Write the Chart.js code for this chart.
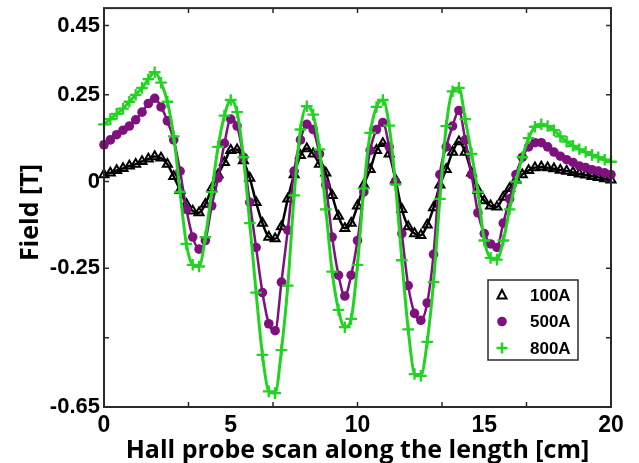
<!DOCTYPE html>
<html>
<head>
<meta charset="utf-8">
<script src="https://cdn.jsdelivr.net/npm/chart.js@4.4.1/dist/chart.umd.min.js"></script>
<style>
  html, body { margin: 0; padding: 0; background: #ffffff; }
  #wrap { width: 639px; height: 463px; }
</style>
</head>
<body>
<div id="wrap"><canvas id="c" width="639" height="463"></canvas></div>
<script>
// Probe positions along the length [cm]
const positions = [
  0, 0.25, 0.5, 0.75, 1, 1.25, 1.5, 1.75, 2, 2.25, 2.5, 2.75, 3, 3.25, 3.5, 3.75,
  4, 4.25, 4.5, 4.75, 5, 5.25, 5.5, 5.75, 6, 6.25, 6.5, 6.75, 7, 7.25, 7.5, 7.75,
  8, 8.25, 8.5, 8.75, 9, 9.25, 9.5, 9.75, 10, 10.25, 10.5, 10.75, 11, 11.25, 11.5, 11.75,
  12, 12.25, 12.5, 12.75, 13, 13.25, 13.5, 13.75, 14, 14.25, 14.5, 14.75, 15, 15.25, 15.5, 15.75,
  16, 16.25, 16.5, 16.75, 17, 17.25, 17.5, 17.75, 18, 18.25, 18.5, 18.75, 19, 19.25, 19.5, 19.75, 20
];

// Measured field [T] for each coil current
const field100A = [
  0.02, 0.025, 0.032, 0.038, 0.045, 0.05, 0.058, 0.065, 0.072,
  0.068, 0.05, 0.015, -0.025, -0.065, -0.085, -0.09, -0.065,
  -0.02, 0.02, 0.055, 0.09, 0.092, 0.06, 0.01, -0.06,
  -0.12, -0.16, -0.165, -0.13, -0.05, 0.02, 0.075, 0.095,
  0.08, 0.05, 0.025, -0.04, -0.10, -0.135, -0.12, -0.07,
  -0.01, 0.035, 0.09, 0.11, 0.08, 0.005, -0.08, -0.13,
  -0.15, -0.155, -0.125, -0.075, -0.01, 0.035, 0.085, 0.115,
  0.085, 0.025, -0.025, -0.055, -0.07, -0.073, -0.045, -0.02,
  0.005, 0.02, 0.032, 0.04, 0.042, 0.04, 0.037, 0.033,
  0.03, 0.026, 0.022, 0.019, 0.015, 0.012, 0.008, 0.005
];
const field500A = [
  0.106, 0.12, 0.135, 0.148, 0.16, 0.178, 0.20, 0.225, 0.24,
  0.215, 0.175, 0.12, 0.03, -0.08, -0.16, -0.195, -0.17,
  -0.07, 0.01, 0.11, 0.18, 0.16, 0.07, -0.06, -0.19,
  -0.32, -0.41, -0.43, -0.29, -0.14, 0.03, 0.12, 0.165,
  0.15, 0.08, -0.01, -0.16, -0.27, -0.33, -0.27, -0.17,
  -0.03, 0.09, 0.15, 0.17, 0.10, 0.0, -0.15, -0.30,
  -0.38, -0.40, -0.35, -0.21, 0.02, 0.10, 0.16, 0.205,
  0.12, 0.02, -0.09, -0.15, -0.18, -0.19, -0.12, -0.05,
  0.02, 0.07, 0.10, 0.112, 0.112, 0.10, 0.085, 0.073,
  0.063, 0.055, 0.045, 0.04, 0.034, 0.03, 0.025, 0.02
];
const field800A = [
  0.165, 0.18, 0.195, 0.21, 0.23, 0.25, 0.27, 0.295, 0.315,
  0.285, 0.23, 0.13, -0.03, -0.18, -0.24, -0.245, -0.16,
  -0.03, 0.10, 0.19, 0.235, 0.20, 0.07, -0.12, -0.32,
  -0.50, -0.605, -0.61, -0.486, -0.30, -0.04, 0.15, 0.217,
  0.193, 0.093, -0.08, -0.26, -0.37, -0.42, -0.396, -0.24,
  -0.02, 0.14, 0.215, 0.235, 0.161, -0.009, -0.227, -0.426,
  -0.555, -0.56, -0.462, -0.29, -0.05, 0.16, 0.26, 0.27,
  0.18, 0.08, -0.03, -0.17, -0.22, -0.225, -0.17, -0.08,
  0.0, 0.07, 0.125, 0.158, 0.165, 0.16, 0.148, 0.13,
  0.115, 0.103, 0.093, 0.085, 0.077, 0.07, 0.063, 0.057
];

const seriesNames = ['100A', '500A', '800A'];
const xTitle = 'Hall probe scan along the length [cm]';
const yTitle = 'Field [T]';

// Axis ticks
const xTickValues = [0, 5, 10, 15, 20];
const xTickMarks = [3.333, 6.667, 10, 13.333, 16.667];
const yTickValues = [-0.65, -0.45, -0.25, 0, 0.25, 0.45];
const yTickLabels = ['-0.65', '', '-0.25', '0', '0.25', '0.45'];

const BLACK = '#000000';
const PURPLE = '#7e117e';
const GREEN = '#22d322';

function pairs(values) {
  return positions.map((x, i) => ({ x: x, y: values[i] }));
}

function marker(ctx, kind, x, y) {
  ctx.save();
  if (kind === 'triangle') {
    ctx.strokeStyle = BLACK; ctx.lineWidth = 2;
    ctx.beginPath();
    ctx.moveTo(x, y - 5); ctx.lineTo(x + 4.5, y + 3.5); ctx.lineTo(x - 4.5, y + 3.5);
    ctx.closePath(); ctx.stroke();
  } else if (kind === 'circle') {
    ctx.fillStyle = PURPLE;
    ctx.beginPath(); ctx.arc(x, y, 4.8, 0, Math.PI * 2); ctx.fill();
  } else {
    ctx.strokeStyle = GREEN; ctx.lineWidth = 2.5;
    ctx.beginPath();
    ctx.moveTo(x - 5.5, y); ctx.lineTo(x + 5.5, y);
    ctx.moveTo(x, y - 5.5); ctx.lineTo(x, y + 5.5);
    ctx.stroke();
  }
  ctx.restore();
}

// Box frame, inward tick marks, vertical axis title and the boxed legend
const framePlugin = {
  id: 'frame',
  afterDatasetsDraw(chart) {
    const { ctx, chartArea: a, scales } = chart;
    ctx.save();
    ctx.strokeStyle = '#2a2a2a';
    ctx.lineWidth = 2;
    ctx.strokeRect(a.left, a.top, a.right - a.left, a.bottom - a.top);
    ctx.lineWidth = 1.5;
    ctx.beginPath();
    yTickValues.forEach(v => {
      const py = scales.y.getPixelForValue(v);
      ctx.moveTo(a.left, py); ctx.lineTo(a.left + 5, py);
      ctx.moveTo(a.right, py); ctx.lineTo(a.right - 5, py);
    });
    xTickMarks.forEach(v => {
      const px = scales.x.getPixelForValue(v);
      ctx.moveTo(px, a.bottom); ctx.lineTo(px, a.bottom - 5);
      ctx.moveTo(px, a.top); ctx.lineTo(px, a.top + 5);
    });
    ctx.stroke();

    // vertical axis title
    ctx.save();
    ctx.translate(31, (a.top + a.bottom) / 2 + 5);
    ctx.rotate(-Math.PI / 2);
    ctx.font = 'bold 25px "Open Sans", sans-serif';
    ctx.fillStyle = '#000000';
    ctx.textAlign = 'center';
    ctx.textBaseline = 'middle';
    ctx.fillText(yTitle, 0, 0);
    ctx.restore();

    // legend
    const bx = a.right - 123, by = a.bottom - 127, bw = 90, bh = 80;
    ctx.fillStyle = '#ffffff';
    ctx.fillRect(bx, by, bw, bh);
    ctx.strokeStyle = '#2a2a2a';
    ctx.lineWidth = 1.5;
    ctx.strokeRect(bx, by, bw, bh);
    const kinds = ['triangle', 'circle', 'plus'];
    ctx.font = 'bold 17px "Liberation Sans", Arial, sans-serif';
    ctx.textBaseline = 'middle';
    ctx.textAlign = 'left';
    seriesNames.forEach((name, i) => {
      const ry = by + 15 + i * 26.5;
      marker(ctx, kinds[i], bx + 14, ry);
      ctx.fillStyle = '#000000';
      ctx.fillText(name, bx + 42, ry + 1);
    });
    ctx.restore();
  }
};

const tickFont = { family: '"Liberation Sans", Arial, sans-serif', weight: 'bold' };
const titleFont = { family: '"Open Sans", sans-serif', size: 25, weight: 'bold' };

new Chart(document.getElementById('c'), {
  type: 'line',
  data: {
    datasets: [
      {
        label: seriesNames[0], data: pairs(field100A), order: 3,
        borderColor: BLACK, borderWidth: 2.5, cubicInterpolationMode: 'monotone',
        pointStyle: 'triangle', pointRadius: 5.2, pointBorderWidth: 2,
        pointBorderColor: BLACK, pointBackgroundColor: 'rgba(255,255,255,0)', clip: false
      },
      {
        label: seriesNames[1], data: pairs(field500A), order: 2,
        borderColor: PURPLE, borderWidth: 2.5, cubicInterpolationMode: 'monotone',
        pointStyle: 'circle', pointRadius: 4.8, pointBorderWidth: 0,
        pointBackgroundColor: PURPLE, pointBorderColor: PURPLE, clip: false
      },
      {
        label: seriesNames[2], data: pairs(field800A), order: 1,
        borderColor: GREEN, borderWidth: 3, cubicInterpolationMode: 'monotone',
        pointStyle: 'cross', pointRadius: 5.8, pointBorderWidth: 2.3,
        pointBorderColor: GREEN, pointBackgroundColor: GREEN, clip: false
      }
    ]
  },
  options: {
    responsive: false,
    animation: false,
    devicePixelRatio: 1,
    layout: { padding: { top: 8, right: 28, left: 0, bottom: 0 } },
    plugins: { legend: { display: false }, tooltip: { enabled: false } },
    scales: {
      x: {
        type: 'linear', min: 0, max: 20,
        afterBuildTicks: s => { s.ticks = xTickValues.map(v => ({ value: v })); },
        afterFit: s => { s.height = 56; },
        grid: { display: false, drawTicks: false },
        border: { display: false },
        ticks: { font: Object.assign({ size: 23 }, tickFont), color: '#000', padding: 5, maxRotation: 0, autoSkip: false },
        title: { display: true, text: xTitle, font: Object.assign({ lineHeight: 0.95 }, titleFont), color: '#000', padding: { top: 0, bottom: 0 } }
      },
      y: {
        type: 'linear', min: -0.65, max: 0.5,
        afterBuildTicks: s => { s.ticks = yTickValues.map(v => ({ value: v })); },
        afterFit: s => { s.width = 104; s.paddingTop = 0; s.paddingBottom = 0; },
        grid: { display: false, drawTicks: false },
        border: { display: false },
        ticks: {
          font: Object.assign({ size: 22 }, tickFont), color: '#000', padding: 4, autoSkip: false,
          callback: (v) => {
            const i = yTickValues.findIndex(t => Math.abs(t - v) < 1e-6);
            return i >= 0 ? yTickLabels[i] : '';
          }
        },
        title: { display: false }
      }
    }
  },
  plugins: [framePlugin]
});
</script>
</body>
</html>
